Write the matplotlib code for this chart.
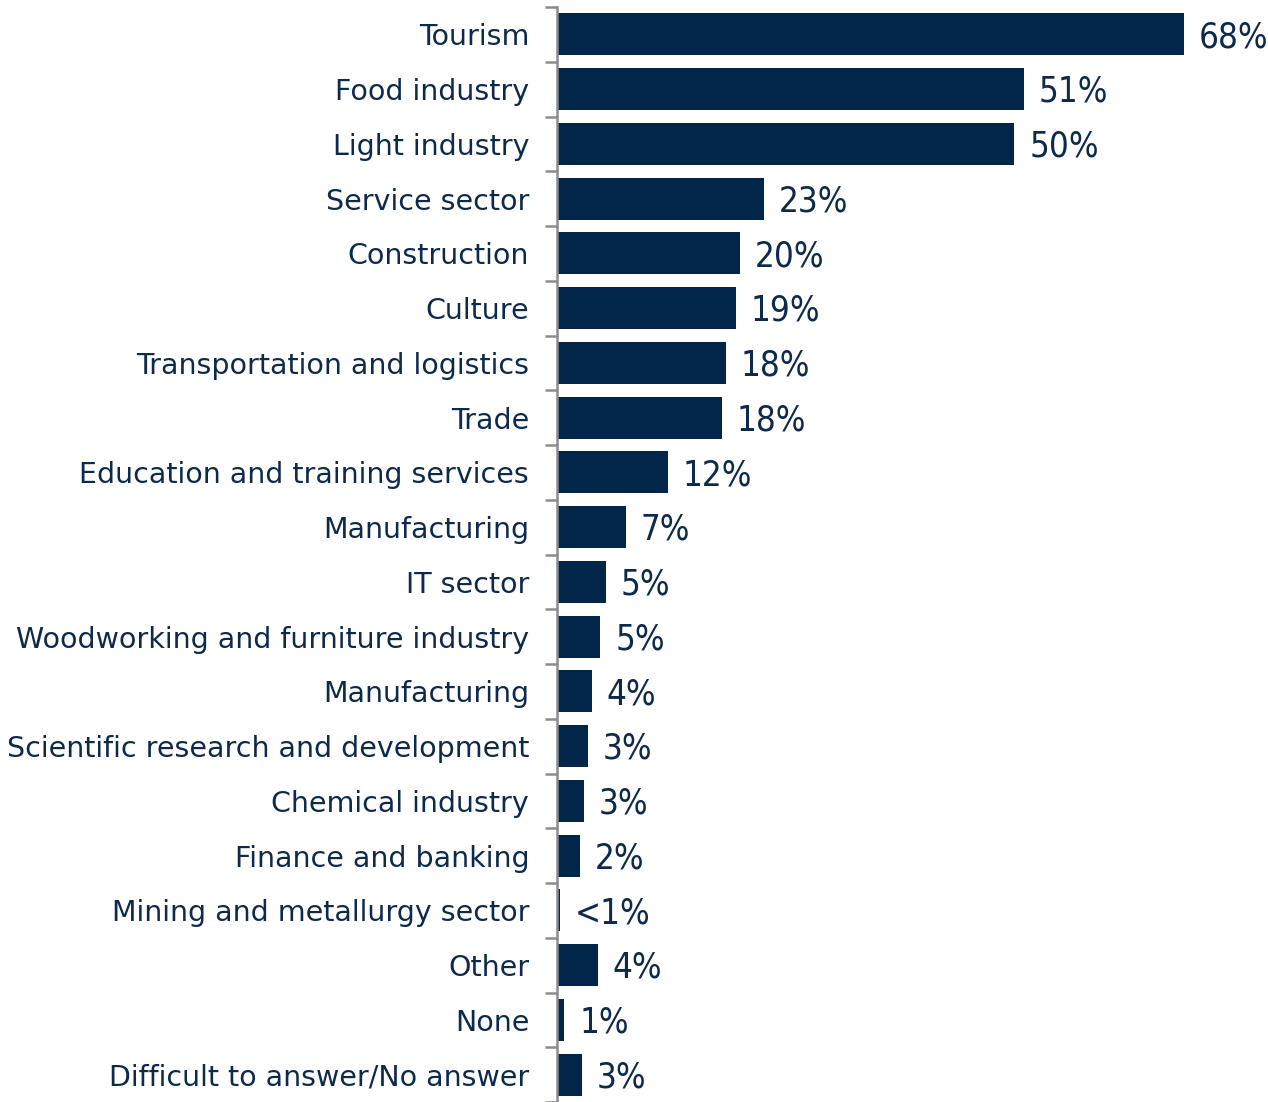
import matplotlib
matplotlib.use("Agg")
import matplotlib.pyplot as plt
import numpy as np

categories = ["Tourism", "Food industry", "Light industry", "Service sector", "Construction",
              "Culture", "Transportation and logistics", "Trade", "Education and training services",
              "Manufacturing", "IT sector", "Woodworking and furniture industry", "Manufacturing",
              "Scientific research and development", "Chemical industry", "Finance and banking",
              "Mining and metallurgy sector", "Other", "None", "Difficult to answer/No answer"]
values = [68, 50.6, 49.6, 22.5, 19.8, 19.4, 18.3, 17.9, 12.0, 7.5, 5.3, 4.7, 3.8, 3.4, 2.9, 2.5,
          0.3, 4.4, 0.8, 2.7]
value_labels = ["68%", "51%", "50%", "23%", "20%", "19%", "18%", "18%", "12%", "7%", "5%", "5%",
                "4%", "3%", "3%", "2%", "<1%", "4%", "1%", "3%"]

bar_color = "#02264A"
text_color = "#0E2A4B"
W, H = 1268, 1102
fig = plt.figure(figsize=(W / 100, H / 100), dpi=100)
ax = fig.add_axes([557 / W, 0.0, (W - 557) / W, 1 - 7 / H])

n = len(categories)
y = np.arange(n)
ax.barh(y, values, height=0.77, color=bar_color)
ax.set_ylim(n - 0.5, -0.5)
ax.set_xlim(0, 711 / 9.22)

for yi, v, lab in zip(y, values, value_labels):
    ax.text(v + 1.6, yi + 0.05, lab, va="center", ha="left", fontsize=25,
            fontstretch="condensed", color=text_color)

ax.set_yticks(np.arange(n + 1) - 0.5)
ax.set_yticklabels([])
ax.set_yticks(y, minor=True)
ax.set_yticklabels(categories, minor=True, fontsize=20.5, color=text_color)
ax.tick_params(axis="y", which="major", length=9, width=1.8, color="#8C8C8C", direction="out")
ax.tick_params(axis="y", which="minor", length=0, pad=20)
ax.set_xticks([])
for s in ["top", "right", "bottom"]:
    ax.spines[s].set_visible(False)
ax.spines["left"].set_color("#8C8C8C")
ax.spines["left"].set_linewidth(1.8)

fig.savefig("out.png", dpi=100)
